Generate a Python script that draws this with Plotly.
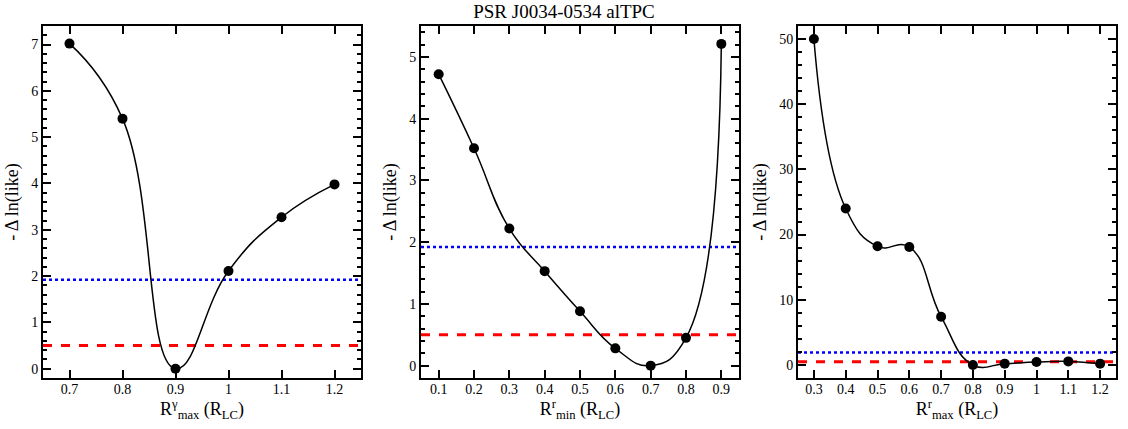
import plotly.graph_objects as go

# Panel 1: R^gamma_max
x1 = [0.7, 0.8, 0.9, 1.0, 1.1, 1.2]
y1 = [7.02, 5.40, 0.00, 2.11, 3.27, 3.98]
# Panel 2: R^r_min
x2 = [0.1, 0.2, 0.3, 0.4, 0.5, 0.6, 0.7, 0.8, 0.9]
y2 = [4.72, 3.52, 2.22, 1.53, 0.88, 0.28, 0.00, 0.45, 5.21]
# Panel 3: R^r_max
x3 = [0.3, 0.4, 0.5, 0.6, 0.7, 0.8, 0.9, 1.0, 1.1, 1.2]
y3 = [50.0, 24.0, 18.2, 18.1, 7.4, 0.0, 0.2, 0.45, 0.55, 0.2]

level_blue = 1.92
level_red = 0.5

title_text = "PSR J0034-0534 alTPC"
xtitles = ["R<sup>γ</sup><sub>max</sub> (R<sub>LC</sub>)",
           "R<sup>r</sup><sub>min</sub> (R<sub>LC</sub>)",
           "R<sup>r</sup><sub>max</sub> (R<sub>LC</sub>)"]
ytitle = "- Δ ln(like)"

xranges = [[0.65, 1.25], [0.05, 0.95], [0.25, 1.25]]
yranges = [[-0.2, 7.4], [-0.2, 5.5], [-2, 52]]
xdtick = [0.1, 0.1, 0.1]
ydtick = [1, 1, 10]
ymin_dtick = [0.2, 0.2, 2]

W, H = 1128, 429
px_x = [(43, 361), (421, 739), (798, 1116)]
py = (26, 378)

FONT = "Liberation Serif, Times New Roman, serif"

fig = go.Figure()
datasets = [(x1, y1), (x2, y2), (x3, y3)]
for i, (xs, ys) in enumerate(datasets):
    xa = "x" if i == 0 else f"x{i+1}"
    ya = "y" if i == 0 else f"y{i+1}"
    xr = xranges[i]
    fig.add_trace(go.Scatter(x=xr, y=[level_blue, level_blue], mode="lines",
                             line=dict(color="#0000ff", width=2.5, dash="dot"),
                             xaxis=xa, yaxis=ya, showlegend=False, hoverinfo="skip"))
    fig.add_trace(go.Scatter(x=xr, y=[level_red, level_red], mode="lines",
                             line=dict(color="#ff0000", width=3, dash="dash"),
                             xaxis=xa, yaxis=ya, showlegend=False, hoverinfo="skip"))
    fig.add_trace(go.Scatter(x=xs, y=ys, mode="lines+markers",
                             line=dict(color="black", width=1.5, shape="spline", smoothing=1.3),
                             marker=dict(color="black", size=10),
                             xaxis=xa, yaxis=ya, showlegend=False))

layout = dict(
    width=W, height=H,
    margin=dict(l=0, r=0, t=0, b=0, autoexpand=False),
    paper_bgcolor="white", plot_bgcolor="white",
    font=dict(family=FONT, color="black", size=14),
    title=dict(text=title_text, x=0.5, xanchor="center", y=1 - 11 / H, yanchor="middle",
               font=dict(family=FONT, size=19, color="black")),
)
for i in range(3):
    kx = "xaxis" if i == 0 else f"xaxis{i+1}"
    ky = "yaxis" if i == 0 else f"yaxis{i+1}"
    xa_anchor = "y" if i == 0 else f"y{i+1}"
    ya_anchor = "x" if i == 0 else f"x{i+1}"
    layout[kx] = dict(
        domain=[px_x[i][0] / W, px_x[i][1] / W], anchor=xa_anchor,
        range=xranges[i], dtick=xdtick[i], tick0=0, automargin=False,
        showgrid=False, zeroline=False,
        showline=True, linecolor="black", linewidth=2, mirror="ticks",
        ticks="inside", ticklen=8, tickwidth=1.5, tickcolor="black",
        ticklabelstandoff=-3,
        tickfont=dict(size=14, family=FONT, color="black"),
        title=dict(text=xtitles[i], font=dict(size=18, family=FONT, color="black"), standoff=0),
    )
    layout[ky] = dict(
        domain=[1 - py[1] / H, 1 - py[0] / H], anchor=ya_anchor,
        range=yranges[i], dtick=ydtick[i], tick0=0, automargin=False,
        showgrid=False, zeroline=False,
        showline=True, linecolor="black", linewidth=2, mirror="ticks",
        ticks="inside", ticklen=8, tickwidth=1.5, tickcolor="black",
        minor=dict(dtick=ymin_dtick[i], tick0=0, ticks="inside", ticklen=4,
                   tickwidth=1.5, tickcolor="black", showgrid=False),
        tickfont=dict(size=14, family=FONT, color="black"),
        title=dict(text=ytitle, font=dict(size=18, family=FONT, color="black"), standoff=8),
    )
fig.update_layout(**layout)
fig.write_html("out.html", post_script="document.body.style.margin='0px';",
               config={"displayModeBar": False})
